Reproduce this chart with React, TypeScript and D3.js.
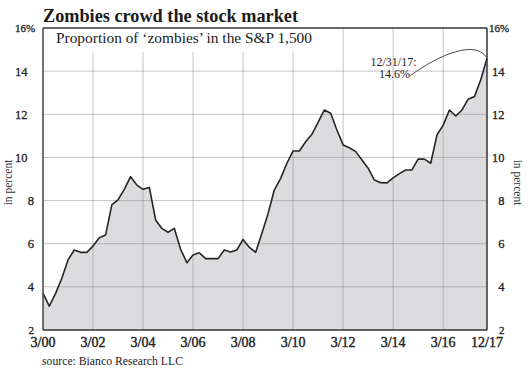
import React from "react";
import * as d3 from "d3";

const values: number[] = [
  3.7, 3.11, 3.7, 4.4, 5.25, 5.71, 5.6, 5.6, 5.89, 6.28, 6.4, 7.8, 8.03, 8.52, 9.11, 8.72,
  8.52, 8.61, 7.1, 6.71, 6.53, 6.71, 5.74, 5.12, 5.48, 5.58, 5.31, 5.31, 5.31, 5.71, 5.62, 5.71,
  6.2, 5.83, 5.6, 6.48, 7.4, 8.5, 9.03, 9.73, 10.3, 10.3, 10.73, 11.07, 11.63, 12.2, 12.05, 11.27,
  10.58, 10.45, 10.27, 9.88, 9.5, 8.95, 8.83, 8.82, 9.05, 9.25, 9.42, 9.42, 9.92, 9.92, 9.73, 11.04,
  11.5, 12.2, 11.92, 12.2, 12.7, 12.82, 13.6, 14.6,
];
const startMonth = new Date(2000, 2, 1);
const dates: Date[] = values.map((_, i) => d3.timeMonth.offset(startMonth, 3 * i));

const xTickLabels = ["3/00", "3/02", "3/04", "3/06", "3/08", "3/10", "3/12", "3/14", "3/16", "12/17"];
const yTicks = [2, 4, 6, 8, 10, 12, 14, 16];
const yTickLabels = ["2", "4", "6", "8", "10", "12", "14", "16%"];

const title = "Zombies crowd the stock market";
const subtitle = "Proportion of \u2018zombies\u2019 in the S&P 1,500";
const source = "source: Bianco Research LLC";
const annotLine1 = "12/31/17:";
const annotLine2 = "14.6%";
const axisLabel = "in percent";

const W = 530, H = 385;
const L = 43, R = 487, T = 28, B = 330;
const FONT = "'Liberation Serif', 'Times New Roman', serif";

export default function App() {
  const parse = d3.timeParse("%m/%y");
  const x = d3.scaleTime().domain([dates[0], dates[dates.length - 1]]).range([L, R]);
  const y = d3.scaleLinear().domain([2, 16]).range([B, T]);
  const data = values.map((v, i) => ({ d: dates[i], v }));
  const area = d3.area<{ d: Date; v: number }>().x((p) => x(p.d)).y0(y(2)).y1((p) => y(p.v));
  const line = d3.line<{ d: Date; v: number }>().x((p) => x(p.d)).y((p) => y(p.v));
  const xTicks = xTickLabels.map((s) => parse(s) as Date);
  const last = data[data.length - 1];
  const ex = x(last.d), ey = y(last.v);
  const textColor = "#222";

  return (
    <svg width={W} height={H} style={{ position: "absolute", left: 0, top: 0, background: "#fff" }} fontFamily={FONT}>
      <rect x={0} y={0} width={W} height={H} fill="#fff" />
      <path d={area(data) || ""} fill="#dcdcdf" />
      {/* grid */}
      {yTicks.filter((t) => t > 2 && t < 16).map((t) => (
        <line key={"gy" + t} x1={L} x2={R} y1={y(t)} y2={y(t)} stroke="#8c8c8c" strokeOpacity={0.5} strokeWidth={1} />
      ))}
      {xTicks.slice(1, -1).map((t, i) => (
        <line key={"gx" + i} x1={x(t)} x2={x(t)} y1={x(t) < 300 ? 52 : T} y2={B} stroke="#8c8c8c" strokeOpacity={0.5} strokeWidth={1} />
      ))}
      <path d={line(data) || ""} fill="none" stroke="#262626" strokeWidth={1.6} strokeLinejoin="round" />
      {/* frame */}
      <line x1={L} x2={R} y1={T} y2={T} stroke="#333" strokeWidth={1.3} />
      <line x1={L} x2={L} y1={T} y2={B} stroke="#444" strokeWidth={1.5} />
      <line x1={R} x2={R} y1={T} y2={B} stroke="#333" strokeWidth={1.5} />
      <line x1={L} x2={R} y1={B} y2={B} stroke="#333" strokeWidth={1.5} />
      {/* titles */}
      <text x={43} y={22} fontSize={18} fontWeight="bold" fill="#1a1a1a" textLength={255} lengthAdjust="spacingAndGlyphs">{title}</text>
      <text x={56} y={43} fontSize={14.5} fill={textColor} textLength={256} lengthAdjust="spacingAndGlyphs">{subtitle}</text>
      {/* y tick labels */}
      {yTicks.map((t, i) => {
        const lab = yTickLabels[i];
        const pct = lab.includes("%");
        const fs = pct ? 11 : t === 2 ? 11 : 12.5;
        return (
          <g key={"yl" + t}>
            <text x={pct ? 15 : lab.length > 1 ? 27.5 : 34} y={y(t)} dy="0.35em" fontSize={fs}
              textAnchor={pct ? "start" : "end"} fill={textColor} stroke={textColor} strokeWidth={0.3}>{lab}</text>
            <text x={pct ? 489 : 504.5} y={y(t)} dy="0.35em" fontSize={fs}
              textAnchor={pct ? "start" : "end"} fill={textColor} stroke={textColor} strokeWidth={0.3}>{lab}</text>
          </g>
        );
      })}
      {/* x tick labels */}
      {xTicks.map((t, i) => (
        <text key={"xl" + i} x={x(t)} y={346.5} fontSize={14} textAnchor="middle" fill={textColor}
          stroke={textColor} strokeWidth={0.4}>{xTickLabels[i]}</text>
      ))}
      {/* axis labels */}
      <text transform={`translate(11.5,182.5) rotate(-90)`} fontSize={11.5} textAnchor="middle" fill="#333">{axisLabel}</text>
      <text transform={`translate(514,182.5) rotate(90)`} fontSize={11.5} textAnchor="middle" fill="#333">{axisLabel}</text>
      {/* source */}
      <text x={42} y={365} fontSize={11.5} fill={textColor} textLength={141} lengthAdjust="spacingAndGlyphs">{source}</text>
      {/* annotation */}
      <text x={416.5} y={66} fontSize={12} textAnchor="end" fill={textColor}>{annotLine1}</text>
      <text x={410} y={78} fontSize={12} textAnchor="end" fill={textColor}>{annotLine2}</text>
      <path d={`M410.5,75.5 C440,54 475,40 ${ex - 0.5},${ey - 1}`} fill="none" stroke="#333" strokeWidth={0.9} />
    </svg>
  );
}
